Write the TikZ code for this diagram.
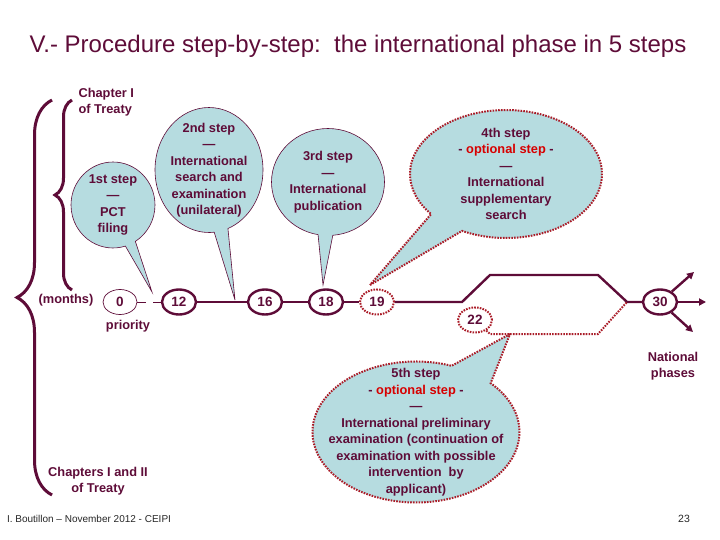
\documentclass[tikz,border=0pt]{standalone}
\usepackage{fontspec}
\setmainfont{Liberation Sans}
\usetikzlibrary{arrows.meta,positioning,shapes.geometric,shapes.callouts,decorations.pathreplacing}
\definecolor{pctmaroon}{RGB}{94,12,56}
\definecolor{pctdot}{RGB}{170,28,40}
\definecolor{pctred}{RGB}{215,0,0}
\definecolor{pctballoon}{RGB}{182,220,224}
\newcommand{\optstep}{- \textcolor{pctred}{optional step} -}

\begin{document}
\begin{tikzpicture}[x=1pt,y=-1pt,
        every node/.style={text=pctmaroon,font=\bfseries\fontsize{12.8}{16.5}\selectfont},
        month/.style={ellipse,draw=pctmaroon,line width=2.4pt,minimum width=34pt,
          minimum height=25pt,inner sep=0pt,font=\bfseries\fontsize{13.5}{13.5}\selectfont},
        optmonth/.style={month,draw=pctdot,line width=2pt,dash pattern=on 1.6pt off 1.2pt},
        balloon/.style={ellipse callout,draw=pctmaroon,line width=0.6pt,fill=pctballoon,
          align=center,inner sep=-40pt},
        optballoon/.style={balloon,draw=pctdot,line width=2pt,dash pattern=on 1.6pt off 1.2pt},
        tl/.style={draw=pctmaroon,line width=2.4pt},
        optline/.style={draw=pctdot,line width=2pt,dash pattern=on 1.6pt off 1.2pt},
        chapbrace/.style={decorate,decoration={brace,amplitude=#1},draw=pctmaroon,line width=3pt}]
  \useasboundingbox (0,0) rectangle (720,540);

  % title and footer
  \node[font=\fontsize{24}{28}\selectfont] (title) at (358,46)
    {V.- Procedure step-by-step:\ \ the international phase in 5 steps};
  \node[text=black!85,font=\fontsize{10}{12}\selectfont] (footer) at (89,519)
    {I. Boutillon -- November 2012 - CEIPI};
  \node[text=black!85,font=\fontsize{10.5}{12}\selectfont] (page) at (684,519) {23};

  % chapters
  \draw[chapbrace=35pt] (52,495) -- (52,100);
  \draw[chapbrace=17pt] (72,290) -- (72,100);
  \node[anchor=west,align=left] (chapone) at (75,102) {Chapter I\\of Treaty};
  \node[align=center] (chaptwo) at (98,481) {Chapters I and II\\of Treaty};

  % pointer tips
  \coordinate (tipa) at (152,292);
  \coordinate (tipb) at (235,300);
  \coordinate (tipc) at (323,285);
  \coordinate (tipd) at (370,285);
  \coordinate (tipe) at (510,334);

  % steps
  \node[balloon,minimum width=84pt,minimum height=86pt,callout absolute pointer=(tipa)]
    (stepa) at (113,205) {1st step\\---\\PCT\\filing};
  \node[balloon,minimum width=108pt,minimum height=125pt,callout absolute pointer=(tipb)]
    (stepb) at (209,170) {2nd step\\---\\International\\search and\\examination\\(unilateral)};
  \node[balloon,minimum width=113pt,minimum height=107pt,callout absolute pointer=(tipc)]
    (stepc) at (328,182) {3rd step\\---\\International\\publication};
  \node[optballoon,minimum width=192pt,minimum height=128pt,callout pointer arc=24,
    callout absolute pointer=(tipd)]
    (stepd) at (506,174) {4th step\\\optstep\\---\\International\\supplementary\\search};
  \node[optballoon,minimum width=207pt,minimum height=141pt,callout pointer arc=26,
    callout absolute pointer=(tipe)]
    (stepe) at (416,432) {5th step\\\optstep\\---\\International preliminary\\examination (continuation of\\examination with possible\\intervention\ \ by\\applicant)};

  % time line
  \node (months) at (66,300) {(months)};
  \node[month,line width=0.7pt] (zero) at (120,302) {0};
  \node (priority) at (128,326) {priority};
  \node[month] (twelve) at (179,302) {12};
  \node[month] (sixteen) at (265,302) {16};
  \node[month] (eighteen) at (326,302) {18};
  \node[optmonth] (nineteen) at (377,302) {19};
  \node[optmonth] (twentytwo) at (475,320) {22};
  \node[month] (thirty) at (660,302) {30};
  \node[align=center] (national) at (673,366) {National\\phases};

  \coordinate (gapa) at (146,302);
  \coordinate (gapb) at (153,302);
  \coordinate (split) at (462,302);
  \coordinate (upa) at (490,275);
  \coordinate (upb) at (598,275);
  \coordinate (join) at (627,302);
  \coordinate (loa) at (490,334);
  \coordinate (lob) at (598,334);
  \coordinate (npa) at (694,272);
  \coordinate (npb) at (706,302);
  \coordinate (npc) at (693,332);

  \draw[pctmaroon,line width=0.8pt] (zero) -- (gapa);
  \draw[pctmaroon,line width=0.8pt] (gapb) -- (twelve);
  \draw[tl] (twelve) -- (sixteen) -- (eighteen) -- (nineteen);
  \draw[tl] (nineteen) -- (split) -- (upa) -- (upb) -- (join) -- (thirty);
  \draw[optline] (twentytwo) -- (loa) -- (lob) -- (join);
  \foreach \np in {npa,npb,npc}
    \draw[tl,-{Triangle[length=7pt,width=7pt]}] (thirty) -- (\np);
\end{tikzpicture}
\end{document}
